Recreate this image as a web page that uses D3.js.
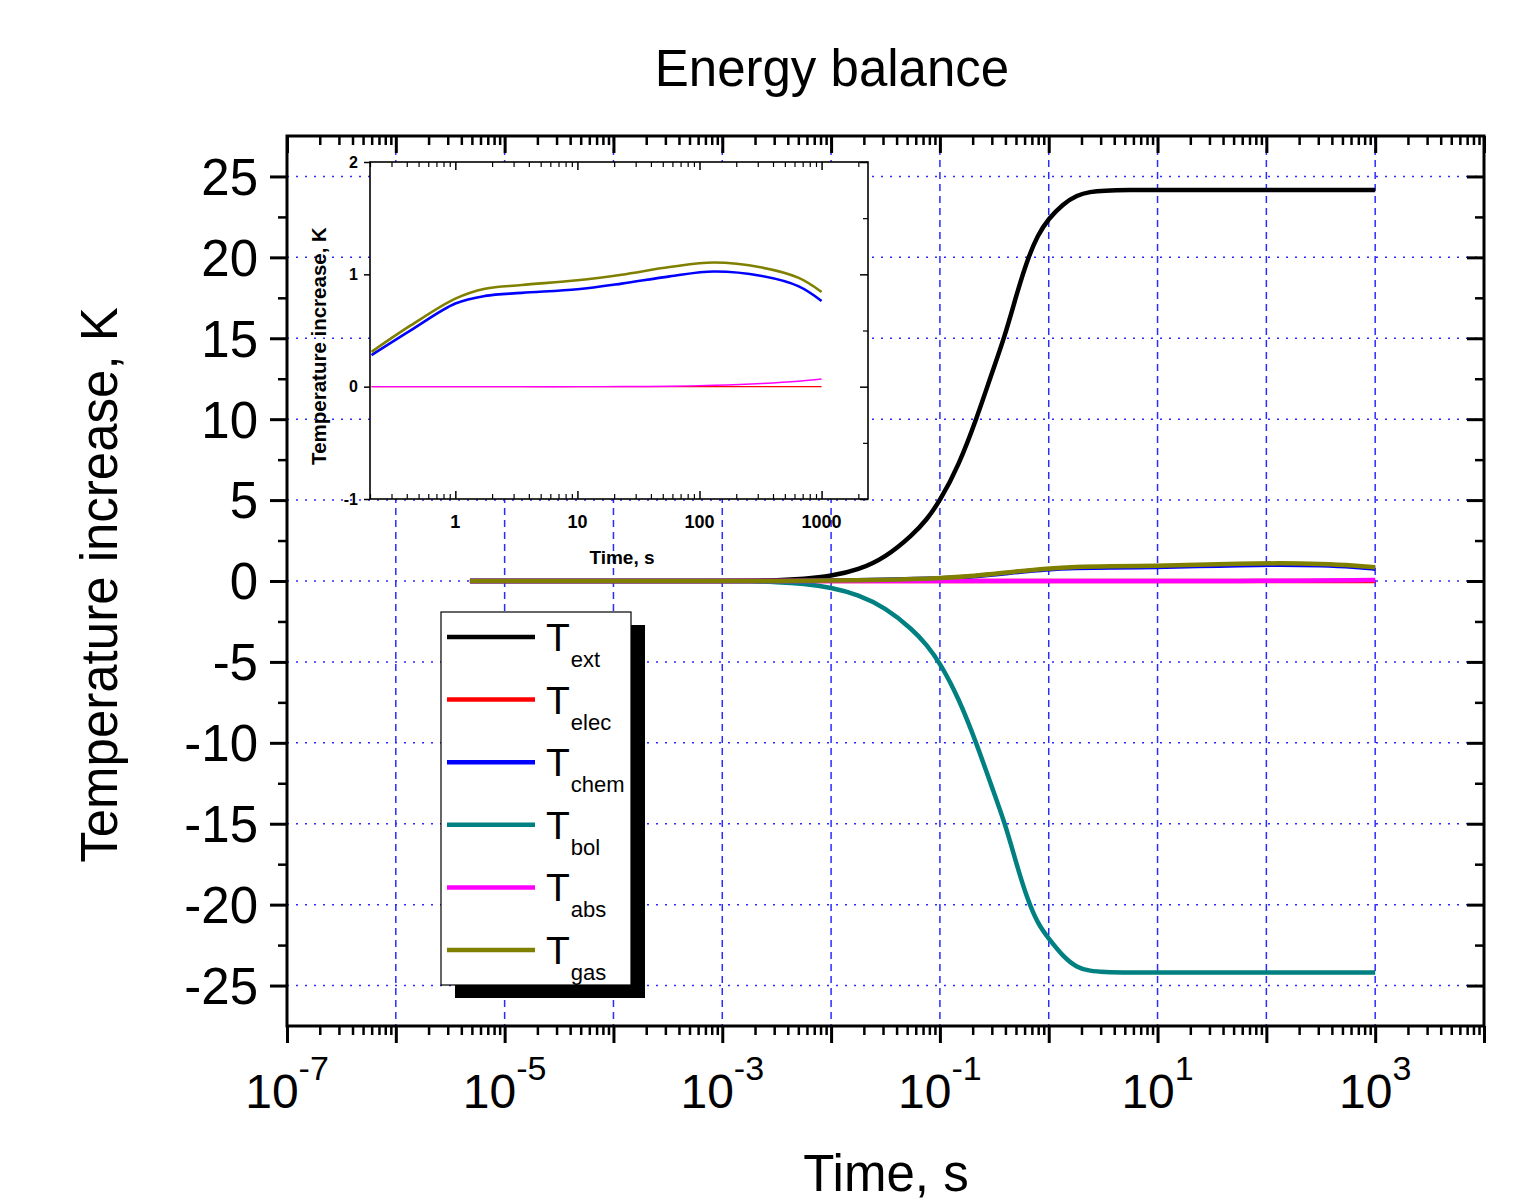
<!DOCTYPE html>
<html>
<head>
<meta charset="utf-8">
<script src="https://cdn.jsdelivr.net/npm/d3@7"></script>
<style>
  body { margin: 0; background: #fff; }
  text { font-family: Arial, "Liberation Sans", sans-serif; }
</style>
</head>
<body>
<div class="viz"></div>
<script>
// ---- data ----
var seriesNames = [ "ext", "elec", "chem", "bol", "abs", "gas" ];
var seriesColors = [ "#000000", "#ff0000", "#0000ff", "#008080", "#ff00ff", "#808000" ];

// large (sigmoid) series, time in s
var timeBig = [ 4.8e-6, 1e-4, 1e-3, 1.78e-3, 3.16e-3, 5.62e-3, 1e-2, 1.78e-2, 3.16e-2, 5.62e-2, 7.59e-2, 0.1, 0.148, 0.219, 0.295, 0.398, 0.501, 0.631, 0.794, 1, 1.35, 1.82, 2.4, 3.16, 5.62, 10, 100, 1000 ];
var tExt = [ 0, 0, 0, 0.01, 0.04, 0.13, 0.3, 0.68, 1.45, 2.85, 3.8, 4.95, 7.1, 10.1, 12.7, 15.2, 17.6, 19.8, 21.4, 22.4, 23.3, 23.85, 24.05, 24.13, 24.17, 24.17, 24.17, 24.17 ];
var tBol = [ 0, 0, 0, -0.015, -0.06, -0.17, -0.4, -0.85, -1.65, -3.0, -3.95, -5.05, -7.2, -10.1, -12.6, -15.0, -17.4, -19.6, -21.2, -22.1, -23.2, -23.9, -24.1, -24.17, -24.2, -24.2, -24.2, -24.2 ];

// small series, time in s
var timeSmall = [ 4.8e-6, 1e-4, 1e-3, 3e-3, 1e-2, 3e-2, 0.1, 0.206, 0.434, 1, 1.75, 3.5, 10, 23, 57, 131, 324, 650, 1000 ];
var tElec = [ 0, 0, 0, 0, 0, 0, 0, 0, 0, 0, 0, 0, 0, 0, 0, 0, 0, 0, 0 ];
var tChem = [ 0, 0, 0, 0.004, 0.018, 0.065, 0.155, 0.281, 0.503, 0.74, 0.808, 0.835, 0.867, 0.917, 0.982, 1.025, 0.985, 0.893, 0.763 ];
var tAbs = [ 0, 0, 0, 0, 0, 0, 0, 0, 0, 0, 0, 0, 0, 0.001, 0.004, 0.012, 0.028, 0.048, 0.068 ];
var tGas = [ 0, 0, 0, 0.005, 0.02, 0.07, 0.17, 0.31, 0.547, 0.784, 0.872, 0.905, 0.947, 0.997, 1.065, 1.105, 1.06, 0.968, 0.843 ];

// ticks
var xDecades = [ -7, -6, -5, -4, -3, -2, -1, 0, 1, 2, 3, 4 ];
var xLabelExp = [ -7, -5, -3, -1, 1, 3 ];
var yTicks = [ -25, -20, -15, -10, -5, 0, 5, 10, 15, 20, 25 ];
var yMinor = [ -22.5, -17.5, -12.5, -7.5, -2.5, 2.5, 7.5, 12.5, 17.5, 22.5 ];
var insetXTicks = [ 1, 10, 100, 1000 ];
var insetYTicks = [ -1, 0, 1, 2 ];
var insetYMinor = [ -0.5, 0.5, 1.5 ];

var series = [
    { name: "ext", t: timeBig, v: tExt },
    { name: "elec", t: timeSmall, v: tElec },
    { name: "chem", t: timeSmall, v: tChem },
    { name: "bol", t: timeBig, v: tBol },
    { name: "abs", t: timeSmall, v: tAbs },
    { name: "gas", t: timeSmall, v: tGas }
].map( function( s, i ) {
    return { name: s.name, color: seriesColors[ i ], pts: s.t.map( function( t, j ) { return [ t, s.v[ j ] ]; } ) };
} );

var W = 1535, H = 1200;
var svg = d3.select( ".viz" ).append( "svg" ).attr( "width", W ).attr( "height", H );

// ---- main plot ----
var mLeft = 287, mRight = 1484, mTop = 136, mBottom = 1026;
var x = d3.scaleLog().domain( [ 1e-7, 1e4 ] ).range( [ mLeft, mRight ] );
var y = d3.scaleLinear().domain( [ -27.5, 27.5 ] ).range( [ mBottom, mTop ] );

var majorX = xDecades.map( function( e ) { return Math.pow( 10, e ); } );
var minorX = [];
xDecades.forEach( function( e ) {
    if ( e < 4 ) for ( var k = 2; k < 10; k++ ) minorX.push( k * Math.pow( 10, e ) );
} );

// grid
var grid = svg.append( "g" ).attr( "stroke", "#2b2bff" ).attr( "stroke-width", 1.5 ).attr( "fill", "none" );
grid.selectAll( ".hgrid" ).data( yTicks ).enter().append( "line" )
    .attr( "x1", mLeft ).attr( "x2", mRight )
    .attr( "y1", function( d ) { return y( d ); } ).attr( "y2", function( d ) { return y( d ); } )
    .attr( "stroke-dasharray", "2,7" );
grid.selectAll( ".vgrid" ).data( majorX.slice( 1, -1 ) ).enter().append( "line" )
    .attr( "y1", mTop ).attr( "y2", mBottom )
    .attr( "x1", function( d ) { return x( d ); } ).attr( "x2", function( d ) { return x( d ); } )
    .attr( "stroke-dasharray", "7,5" );

// curves
var line = d3.line()
    .x( function( d ) { return x( d[ 0 ] ); } )
    .y( function( d ) { return y( d[ 1 ] ); } )
    .curve( d3.curveBasis );

svg.append( "g" ).selectAll( "path" ).data( series ).enter().append( "path" )
    .attr( "d", function( d ) { return line( d.pts ); } )
    .attr( "fill", "none" )
    .attr( "stroke", function( d ) { return d.color; } )
    .attr( "stroke-width", 4.5 );

function addAxis( axis, tx, ty, w ) {
    var g = svg.append( "g" ).attr( "transform", "translate(" + tx + "," + ty + ")" ).call( axis );
    g.select( ".domain" ).remove();
    g.selectAll( "line" ).attr( "stroke", "#000" ).attr( "stroke-width", w );
    return g;
}

addAxis( d3.axisBottom( x ).tickValues( majorX ).tickSize( 17 ).tickFormat( "" ), 0, mBottom, 3 );
addAxis( d3.axisBottom( x ).tickValues( minorX ).tickSize( 9 ).tickFormat( "" ), 0, mBottom, 2.5 );
addAxis( d3.axisTop( x ).tickValues( majorX ).tickSize( -17 ).tickFormat( "" ), 0, mTop, 3 );
addAxis( d3.axisTop( x ).tickValues( minorX ).tickSize( -9 ).tickFormat( "" ), 0, mTop, 2.5 );
addAxis( d3.axisLeft( y ).tickValues( yTicks ).tickSize( 17 ).tickFormat( "" ), mLeft, 0, 3 );
addAxis( d3.axisLeft( y ).tickValues( yMinor ).tickSize( 9 ).tickFormat( "" ), mLeft, 0, 2.5 );
addAxis( d3.axisRight( y ).tickValues( yTicks ).tickSize( -17 ).tickFormat( "" ), mRight, 0, 3 );
addAxis( d3.axisRight( y ).tickValues( yMinor ).tickSize( -9 ).tickFormat( "" ), mRight, 0, 2.5 );

svg.append( "rect" )
    .attr( "x", mLeft ).attr( "y", mTop ).attr( "width", mRight - mLeft ).attr( "height", mBottom - mTop )
    .attr( "fill", "none" ).attr( "stroke", "#000" ).attr( "stroke-width", 3 );

// y tick labels
svg.selectAll( ".ylab" ).data( yTicks ).enter().append( "text" )
    .attr( "x", 258 ).attr( "y", function( d ) { return y( d ); } )
    .attr( "dy", "0.36em" )
    .attr( "text-anchor", "end" )
    .attr( "font-size", 51 )
    .text( function( d ) { return d; } );

// x tick labels with exponents
var xl = svg.selectAll( ".xlab" ).data( xLabelExp ).enter().append( "text" )
    .attr( "x", function( d ) { return x( Math.pow( 10, d ) ); } )
    .attr( "y", 1108 )
    .attr( "text-anchor", "middle" );
xl.append( "tspan" ).attr( "font-size", 48 ).text( "10" );
xl.append( "tspan" ).attr( "font-size", 34 ).attr( "dy", -28 ).text( function( d ) { return d; } );

// titles
svg.append( "text" ).attr( "x", 832 ).attr( "y", 86 ).attr( "text-anchor", "middle" )
    .attr( "font-size", 51 ).text( "Energy balance" );
svg.append( "text" ).attr( "x", 886 ).attr( "y", 1191 ).attr( "text-anchor", "middle" )
    .attr( "font-size", 51 ).text( "Time, s" );
svg.append( "text" ).attr( "transform", "translate(117,585) rotate(-90)" ).attr( "text-anchor", "middle" )
    .attr( "font-size", 51 ).text( "Temperature increase, K" );

// ---- legend ----
var lg = svg.append( "g" );
lg.append( "rect" ).attr( "x", 455 ).attr( "y", 625 ).attr( "width", 190 ).attr( "height", 373 ).attr( "fill", "#000" );
lg.append( "rect" ).attr( "x", 441 ).attr( "y", 612 ).attr( "width", 190 ).attr( "height", 373 )
    .attr( "fill", "#fff" ).attr( "stroke", "#000" ).attr( "stroke-width", 1.2 );
var rows = lg.selectAll( ".row" ).data( series ).enter().append( "g" )
    .attr( "transform", function( d, i ) { return "translate(0," + ( 637 + i * 62.6 ) + ")"; } );
rows.append( "line" ).attr( "x1", 447 ).attr( "x2", 535 ).attr( "y1", 0 ).attr( "y2", 0 )
    .attr( "stroke", function( d ) { return d.color; } ).attr( "stroke-width", 4.5 );
var lt = rows.append( "text" ).attr( "x", 546 ).attr( "y", 14 );
lt.append( "tspan" ).attr( "font-size", 39 ).text( "T" );
lt.append( "tspan" ).attr( "font-size", 22 ).attr( "dy", 16 ).attr( "dx", 1 ).text( function( d ) { return d.name; } );

// ---- inset ----
var iL = 370, iR = 868, iT = 162, iB = 499;
var ix = d3.scaleLog().domain( [ 0.2, 2400 ] ).range( [ iL, iR ] );
var iy = d3.scaleLinear().domain( [ -1, 2 ] ).range( [ iB, iT ] );

svg.append( "rect" ).attr( "x", iL ).attr( "y", iT ).attr( "width", iR - iL ).attr( "height", iB - iT ).attr( "fill", "#fff" );
svg.append( "clipPath" ).attr( "id", "inclip" ).append( "rect" )
    .attr( "x", iL ).attr( "y", iT ).attr( "width", iR - iL ).attr( "height", iB - iT );

var iline = d3.line()
    .x( function( d ) { return ix( d[ 0 ] ); } )
    .y( function( d ) { return iy( d[ 1 ] ); } )
    .curve( d3.curveCatmullRom.alpha( 0.5 ) );
svg.append( "g" ).attr( "clip-path", "url(#inclip)" ).selectAll( "path" ).data( series.filter( function( s ) {
        return s.name != "ext" && s.name != "bol";
    } ) ).enter().append( "path" )
    .attr( "d", function( d ) { return iline( d.pts.filter( function( p ) { return p[ 0 ] >= 0.2; } ) ); } )
    .attr( "fill", "none" )
    .attr( "stroke", function( d ) { return d.color; } )
    .attr( "stroke-width", function( d ) { return ( d.name == "chem" || d.name == "gas" ) ? 2.6 : 1.4; } );

var iMajor = [ 1, 10, 100, 1000 ];
var iMinor = [];
[ 0.1, 1, 10, 100, 1000 ].forEach( function( b ) {
    for ( var k = 2; k < 10; k++ ) {
        var v = k * b;
        if ( v >= 0.2 && v <= 2400 ) iMinor.push( v );
    }
} );

addAxis( d3.axisBottom( ix ).tickValues( iMajor ).tickSize( -8 ).tickFormat( "" ), 0, iB, 1.5 );
addAxis( d3.axisBottom( ix ).tickValues( iMinor ).tickSize( -5 ).tickFormat( "" ), 0, iB, 1.2 );
addAxis( d3.axisTop( ix ).tickValues( iMajor ).tickSize( -8 ).tickFormat( "" ), 0, iT, 1.5 );
addAxis( d3.axisTop( ix ).tickValues( iMinor ).tickSize( -5 ).tickFormat( "" ), 0, iT, 1.2 );
addAxis( d3.axisLeft( iy ).tickValues( insetYTicks ).tickSize( 6 ).tickFormat( "" ), iL, 0, 1.5 );
addAxis( d3.axisRight( iy ).tickValues( insetYTicks ).tickSize( -8 ).tickFormat( "" ), iR, 0, 1.5 );
addAxis( d3.axisRight( iy ).tickValues( insetYMinor ).tickSize( -5 ).tickFormat( "" ), iR, 0, 1.2 );

svg.append( "rect" ).attr( "x", iL ).attr( "y", iT ).attr( "width", iR - iL ).attr( "height", iB - iT )
    .attr( "fill", "none" ).attr( "stroke", "#000" ).attr( "stroke-width", 1.6 );

svg.selectAll( ".iylab" ).data( insetYTicks ).enter().append( "text" )
    .attr( "x", 358 ).attr( "y", function( d ) { return iy( d ); } ).attr( "dy", "0.36em" )
    .attr( "text-anchor", "end" ).attr( "font-size", 16 ).attr( "font-weight", "bold" )
    .text( function( d ) { return d; } );
svg.selectAll( ".ixlab" ).data( insetXTicks ).enter().append( "text" )
    .attr( "x", function( d ) { return ix( d ); } ).attr( "y", 528 )
    .attr( "text-anchor", "middle" ).attr( "font-size", 18 ).attr( "font-weight", "bold" )
    .text( function( d ) { return d; } );
svg.append( "text" ).attr( "x", 622 ).attr( "y", 564 ).attr( "text-anchor", "middle" )
    .attr( "font-size", 19 ).attr( "font-weight", "bold" ).text( "Time, s" );
svg.append( "text" ).attr( "transform", "translate(326,346) rotate(-90)" ).attr( "text-anchor", "middle" )
    .attr( "font-size", 20.5 ).attr( "font-weight", "bold" ).text( "Temperature increase, K" );
</script>
</body>
</html>
